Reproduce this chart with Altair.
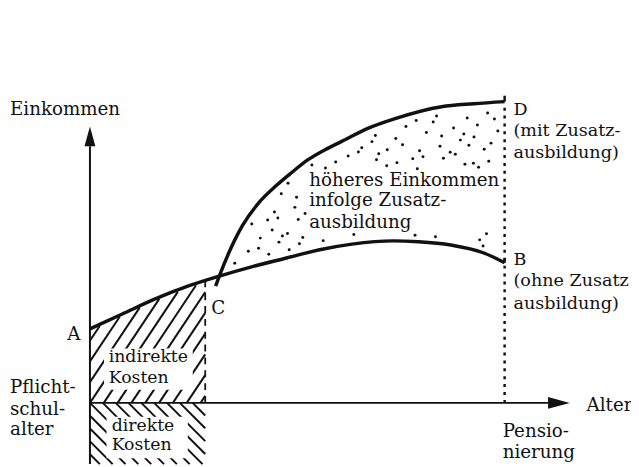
import altair as alt
import numpy as np
import pandas as pd

# ---------------- data ----------------
# income path without further education (A -> C -> B)
lower_age = [15, 18.9, 22.8, 26.8, 30.6, 34.7, 38.7, 42.7, 46.6, 51.6, 54.6, 58.5, 62.5, 65]
lower_inc = [25, 30, 35, 39.4, 42.8, 46.1, 48.9, 51.7, 53.6, 54.7, 54.4, 53.3, 50.6, 47.3]
# income path with further education (crossing at C -> D)
upper_age = [30.15, 30.6, 31.8, 33.4, 35.4, 37.4, 39.3, 41.3, 43.3, 45.3, 48.5, 51.8, 57.4, 61.3, 65]
upper_inc = [39.4, 42.8, 51.0, 59.9, 67.7, 73.2, 77.7, 82.1, 85.4, 88.2, 92.7, 96, 100, 101, 101.7]

school_age = 15      # Pflichtschulalter
study_end = 28.9     # end of the hatched cost block
retire_age = 65      # Pensionierung

labels = ["Einkommen",
          "höheres Einkommen", "infolge Zusatz-", "ausbildung",
          "Alter", "Pensio-", "nierung",
          "A", "C", "Pflicht-", "schul-", "alter"]
label_age = [5.36,
             41.43, 41.43, 41.43,
             74.88, 64.76, 64.76,
             12.26, 29.64, 5.36, 5.36, 5.36]
label_inc = [97.33,
             73.33, 66.33, 59.0,
             -2.67, -11.67, -18.67,
             21.33, 30.0, 3.33, -4.0, -11.0]

end_labels = ["D", "(mit Zusatz-", "ausbildung)", "B", "(ohne Zusatz", "ausbildung)"]
end_age = [66.07, 66.07, 66.07, 66.07, 66.07, 66.07]
end_inc = [97.33, 90.0, 82.67, 46.67, 39.33, 31.67]

cost_labels = ["indirekte", "Kosten", "direkte", "Kosten"]
cost_age = [17.26, 17.26, 17.62, 17.62]
cost_inc = [13.67, 6.67, -9.33, -16.0]

# ---------------- scales ----------------
XMIN, XMAX = 5.119, 80.238
YMIN, YMAX = -20.667, 132.333
xs = alt.Scale(domain=[XMIN, XMAX], nice=False, zero=False)
ys = alt.Scale(domain=[YMIN, YMAX], nice=False, zero=False)

def X(f="age"):
    return alt.X(f"{f}:Q", scale=xs, axis=None)

def Y(f="inc"):
    return alt.Y(f"{f}:Q", scale=ys, axis=None)

def lower_at(a):
    return np.interp(a, lower_age, lower_inc)

def upper_at(a):
    return np.interp(a, upper_age, upper_inc)

# ---------------- hatch: indirect costs ("/") ----------------
segs = []
s_up = 4.2
step_up = 1.667
for k in range(-5, 10):
    a0 = school_age + k * step_up
    start = max(a0, school_age)
    if start >= study_end:
        continue
    ages = np.linspace(start, study_end, 400)
    vals = s_up * (ages - a0)
    over = np.where(vals >= lower_at(ages) - 0.6)[0]
    end = ages[over[0]] if len(over) else study_end
    i0 = s_up * (start - a0)
    i1 = s_up * (end - a0)
    if i0 >= lower_at(start) or end - start < 0.05:
        continue
    segs.append(dict(age=start, inc=i0, age2=end, inc2=i1))

# ---------------- hatch: direct costs ("\") ----------------
s_dn = 2.8
step_dn = 1.548
for k in range(-6, 10):
    b0 = school_age + k * step_dn
    start = max(b0, school_age)
    end = min(study_end, b0 + (0 - YMIN) / s_dn)
    if end <= start:
        continue
    segs.append(dict(age=start, inc=-s_dn * (start - b0),
                     age2=end, inc2=-s_dn * (end - b0)))
hatch = pd.DataFrame(segs)

# white boxes behind the cost labels
boxes = pd.DataFrame([
    dict(age=16.7, age2=27.4, inc=4.4, inc2=18.4),
    dict(age=17.0, age2=26.8, inc=-18.7, inc2=-4.7),
])

# ---------------- stipple between the curves ----------------
def halton(i, b):
    f, r = 1.0, 0.0
    while i > 0:
        f /= b
        r += f * (i % b)
        i //= b
    return r

dots = []
for i in range(1, 300):
    a = 30.0 + halton(i, 2) * 35.0
    v = 41.0 + halton(i, 3) * 62.0
    if a < 31.3 or a > 64.3:
        continue
    if not (lower_at(a) + 1.9 < v < upper_at(a) - 2.4):
        continue
    if 41.0 < a < 64.6 and 57.5 < v < 78.8:
        continue
    dots.append(dict(age=a, inc=v))
dots = pd.DataFrame(dots)

lower_df = pd.DataFrame(dict(age=lower_age, inc=lower_inc))
upper_df = pd.DataFrame(dict(age=upper_age, inc=upper_inc))
text_df = pd.DataFrame(dict(t=labels, age=label_age, inc=label_inc))
end_df = pd.DataFrame(dict(t=end_labels, age=end_age, inc=end_inc))
cost_df = pd.DataFrame(dict(t=cost_labels, age=cost_age, inc=cost_inc))

# ---------------- layers ----------------
hatch_layer = alt.Chart(hatch).mark_rule(color="#111", strokeWidth=2).encode(
    x=X(), y=Y(), x2="age2:Q", y2="inc2:Q")

box_layer = alt.Chart(boxes).mark_rect(color="white").encode(
    x=X(), y=Y(), x2="age2:Q", y2="inc2:Q")

edge_df = pd.DataFrame([dict(age=study_end, inc=0, inc2=float(lower_at(study_end)))])
edge_layer = alt.Chart(edge_df).mark_rule(
    color="#111", strokeWidth=1.8, strokeDash=[7, 6]).encode(x=X(), y=Y(), y2="inc2:Q")

dot_layer = alt.Chart(dots).mark_circle(color="#111", size=9, opacity=1).encode(
    x=X(), y=Y())

lower_line = alt.Chart(lower_df).mark_line(
    color="#111", strokeWidth=3.5, interpolate="monotone").encode(x=X(), y=Y())
upper_line = alt.Chart(upper_df).mark_line(
    color="#111", strokeWidth=3.5, interpolate="monotone").encode(x=X(), y=Y())

axes_df = pd.DataFrame([
    dict(age=school_age, inc=YMIN, age2=school_age, inc2=86.67),
    dict(age=school_age, inc=0, age2=70.3, inc2=0),
])
axes_layer = alt.Chart(axes_df).mark_rule(color="#111", strokeWidth=2).encode(
    x=X(), y=Y(), x2="age2:Q", y2="inc2:Q")

ticks_df = pd.DataFrame([
    dict(age=retire_age, inc=upper_inc[-1], age2=retire_age, inc2=upper_inc[-1] + 2.0),
    dict(age=retire_age, inc=lower_inc[-1], age2=retire_age, inc2=lower_inc[-1] + 1.6),
])
ticks_layer = alt.Chart(ticks_df).mark_rule(color="#111", strokeWidth=2.5).encode(
    x=X(), y=Y(), x2="age2:Q", y2="inc2:Q")

dotted_df = pd.DataFrame([dict(age=retire_age, inc=0, inc2=upper_inc[-1] - 0.8)])
dotted_layer = alt.Chart(dotted_df).mark_rule(
    color="#111", strokeWidth=2.5, strokeDash=[3, 5]).encode(
    x=X(), y=Y(), y2="inc2:Q")

arrow_up = alt.Chart(pd.DataFrame([dict(age=school_age, inc=90.0)])).mark_point(
    shape="M0,-1L0.55,1L-0.55,1Z", size=400, filled=True, color="#111", opacity=1
).encode(x=X(), y=Y())
arrow_right = alt.Chart(pd.DataFrame([dict(age=71.55, inc=0)])).mark_point(
    shape="M1,0L-1,-0.55L-1,0.55Z", size=484, filled=True, color="#111", opacity=1
).encode(x=X(), y=Y())

text_layer = alt.Chart(text_df).mark_text(
    align="left", baseline="alphabetic", font="DejaVu Serif",
    fontSize=18.5, color="#111").encode(x=X(), y=Y(), text="t:N")

end_layer = alt.Chart(end_df).mark_text(
    align="left", baseline="alphabetic", font="DejaVu Serif",
    fontSize=17.8, color="#111").encode(x=X(), y=Y(), text="t:N")

cost_layer = alt.Chart(cost_df).mark_text(
    align="left", baseline="alphabetic", font="DejaVu Serif",
    fontSize=17.5, color="#111").encode(x=X(), y=Y(), text="t:N")

chart = alt.layer(
    hatch_layer, box_layer, edge_layer, dot_layer, dotted_layer, axes_layer,
    lower_line, upper_line, ticks_layer, arrow_up, arrow_right,
    text_layer, end_layer, cost_layer
).properties(
    width=631, height=459, padding=0,
    autosize=alt.AutoSizeParams(type="none"),
).configure_view(stroke=None)

chart.save("out.html", embed_options={"renderer": "svg", "actions": False})
